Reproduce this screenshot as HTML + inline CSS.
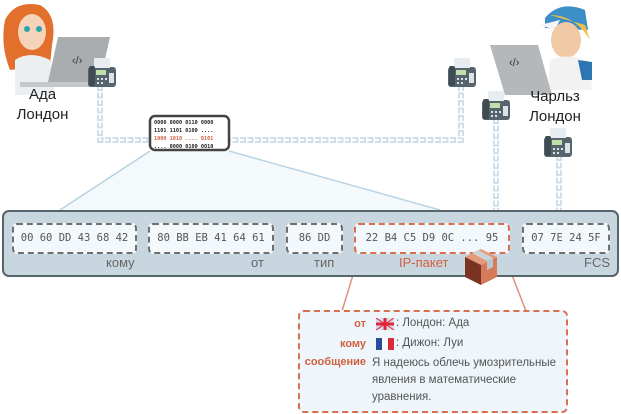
<!DOCTYPE html>
<html><head><meta charset="utf-8"><style>
body{margin:0;width:621px;height:414px;position:relative;background:#fff;font-family:"Liberation Sans","DejaVu Sans",sans-serif;overflow:hidden}
.a{position:absolute}
.box{position:absolute;top:223px;height:27px;background:#f2f8fb;border:2px dashed #6f6f6f;border-radius:5px;font-family:"DejaVu Sans Mono","Liberation Mono",monospace;font-size:10.5px;color:#555;line-height:27px;text-align:center;box-sizing:content-box}
.lbl{position:absolute;top:255px;font-size:13px;color:#666}
.nm{position:absolute;font-size:15px;color:#222;text-align:center;line-height:20px}
.cr{position:absolute;font-size:11.5px;color:#555}
.k{color:#d0603f;font-weight:bold;text-align:right;width:60px;position:absolute}
</style></head><body>
<svg class="a" style="left:0;top:0" width="621" height="414">
<polygon points="150,151 229,151 440,210 60,210" fill="#f4f9fc"/>
<line x1="150" y1="151" x2="60" y2="210" stroke="#b9d3e2" stroke-width="1.5"/>
<line x1="229" y1="151" x2="440" y2="210" stroke="#b9d3e2" stroke-width="1.5"/>
<g stroke="#cfe0ea" stroke-width="6" fill="none" stroke-dasharray="6 1.5">
<path d="M100,85 V140 H461 V85"/>
<path d="M496,118 V210"/>
<path d="M559,155 V210"/>
</g>
<g stroke="#fff" stroke-width="2" fill="none" stroke-dasharray="4 3.5">
<path d="M100,85 V140 H461 V85"/>
<path d="M496,118 V210"/>
<path d="M559,155 V210"/>
</g>
<!-- Ada -->
<path d="M5,20 Q15,0 40,5 Q58,15 52,45 L50,65 L10,70 Q0,45 5,20Z" fill="#e36f2c"/>
<ellipse cx="32" cy="32" rx="14" ry="18" fill="#f6d3bb"/>
<circle cx="27" cy="29" r="3" fill="#2aa5a5"/><circle cx="39" cy="29" r="3" fill="#2aa5a5"/>
<path d="M15,60 Q30,50 50,60 L55,95 L15,95Z" fill="#eceff1"/>
<polygon points="58,37 110,37 100,82 48,82" fill="#a9adb0"/>
<rect x="20" y="82" width="90" height="5" fill="#c4c8ca"/>
<text x="72" y="64" font-size="11" fill="#333">‹/›</text>
<!-- Charles -->
<path d="M545,18 Q560,0 585,10 L588,30 L545,28Z" fill="#3d8fc8"/>
<path d="M540,25 L560,20 L555,30Z" fill="#f4f4f4"/>
<ellipse cx="566" cy="40" rx="15" ry="18" fill="#f1c9a5"/>
<path d="M550,15 Q575,15 590,40 L585,25Z" fill="#f1c242"/>
<path d="M550,60 Q570,52 590,62 L592,90 L548,90Z" fill="#f2f2f2"/>
<path d="M578,60 L592,62 L592,80 L582,80Z" fill="#2d76b4"/>
<polygon points="490,45 538,45 552,95 505,95" fill="#b4b8bb"/>
<text x="509" y="66" font-size="11" fill="#333">‹/›</text>
<!-- faxes -->
<g id="fax"><rect x="88" y="67" width="28" height="20" rx="3" fill="#56656d"/><rect x="94" y="58" width="16" height="10" fill="#e6ecef"/><rect x="96" y="70" width="10" height="5" fill="#bfe0a8"/><rect x="89" y="66" width="6" height="20" rx="2" fill="#3f4b52"/><g fill="#dce3e6"><rect x="97" y="78" width="2" height="2"/><rect x="101" y="78" width="2" height="2"/><rect x="105" y="78" width="2" height="2"/><rect x="97" y="82" width="2" height="2"/><rect x="101" y="82" width="2" height="2"/><rect x="109" y="73" width="5" height="10"/></g></g>
<use href="#fax" x="360" y="0"/>
<use href="#fax" x="394" y="33"/>
<use href="#fax" x="456" y="70"/>
<!-- data box -->
<rect x="150" y="116" width="79" height="34" rx="5" fill="#fff" stroke="#444" stroke-width="2.5"/>
<g font-family="DejaVu Sans Mono,monospace" font-size="5.2" font-weight="bold">
<text x="154" y="124" fill="#222">0000 0000 0110 0000</text>
<text x="154" y="132" fill="#222">1101 1101 0100 ....</text>
<text x="154" y="140" fill="#d0603f">1000 1010 .... 0101</text>
<text x="154" y="148" fill="#222">.... 0000 0100 0010</text>
</g>
<line x1="360" y1="252" x2="342" y2="311" stroke="#e0907a" stroke-width="1.5"/>
<line x1="503" y1="252" x2="526" y2="311" stroke="#e0907a" stroke-width="1.5"/>
</svg>
<div class="nm" style="left:0;top:85px;width:85px">Ада<br>Лондон</div>
<div class="nm" style="left:512px;top:87px;width:86px">Чарльз<br>Лондон</div>
<div class="a" style="left:2px;top:210px;width:613px;height:63px;background:#c8d7df;border:2px solid #56646b;border-radius:7px"></div>
<div class="box" style="left:12px;width:121px">00 60 DD 43 68 42</div>
<div class="box" style="left:148px;width:122px">80 BB EB 41 64 61</div>
<div class="box" style="left:286px;width:53px">86 DD</div>
<div class="box" style="left:354px;width:152px;border-color:#d8704f">22 B4 C5 D9 0C ... 95</div>
<div class="box" style="left:522px;width:84px">07 7E 24 5F</div>
<div class="lbl" style="left:106px">кому</div>
<div class="lbl" style="left:251px">от</div>
<div class="lbl" style="left:314px">тип</div>
<div class="lbl" style="left:399px;color:#d0603f">IP-пакет</div>
<div class="lbl" style="left:584px">FCS</div>
<svg class="a" style="left:463px;top:245px" width="36" height="42">
<polygon points="2,12 18,4 34,12 18,20" fill="#e5997b"/>
<polygon points="2,12 18,20 18,40 2,32" fill="#7a3222"/>
<polygon points="18,20 34,12 34,32 18,40" fill="#d77a5a"/>
<polygon points="9,8 15,5 30,13 24,16" fill="#c9d3d8"/>
<polygon points="24,16 30,13 30,22 24,25" fill="#b9c6cd"/>
</svg>
<div class="a" style="left:298px;top:310px;width:266px;height:99px;background:#eef6fb;border:2px dashed #d8704f;border-radius:6px"></div>
<div class="k" style="left:306px;top:318px;font-size:11px">от</div>
<div class="k" style="left:306px;top:338px;font-size:11px">кому</div>
<div class="k" style="left:296px;top:356px;width:70px;font-size:11px">сообщение</div>
<svg class="a" style="left:376px;top:318px" width="22" height="34">
<rect x="0" y="0" width="18" height="12" rx="2" fill="#d6dce8"/><path d="M0,6H18M9,0V12" stroke="#e0283c" stroke-width="3"/><path d="M0,0L18,12M18,0L0,12" stroke="#e0283c" stroke-width="1"/>
<rect x="0" y="20" width="6" height="12" fill="#2c4a9e"/><rect x="6" y="20" width="6" height="12" fill="#fff"/><rect x="12" y="20" width="6" height="12" fill="#e0283c"/>
</svg>
<div class="cr" style="left:396px;top:317px">: Лондон: Ада</div>
<div class="cr" style="left:396px;top:337px">: Дижон: Луи</div>
<div class="cr" style="left:372px;top:355px;line-height:17px;width:188px">Я надеюсь облечь умозрительные явления в математические уравнения.</div>
</body></html>
